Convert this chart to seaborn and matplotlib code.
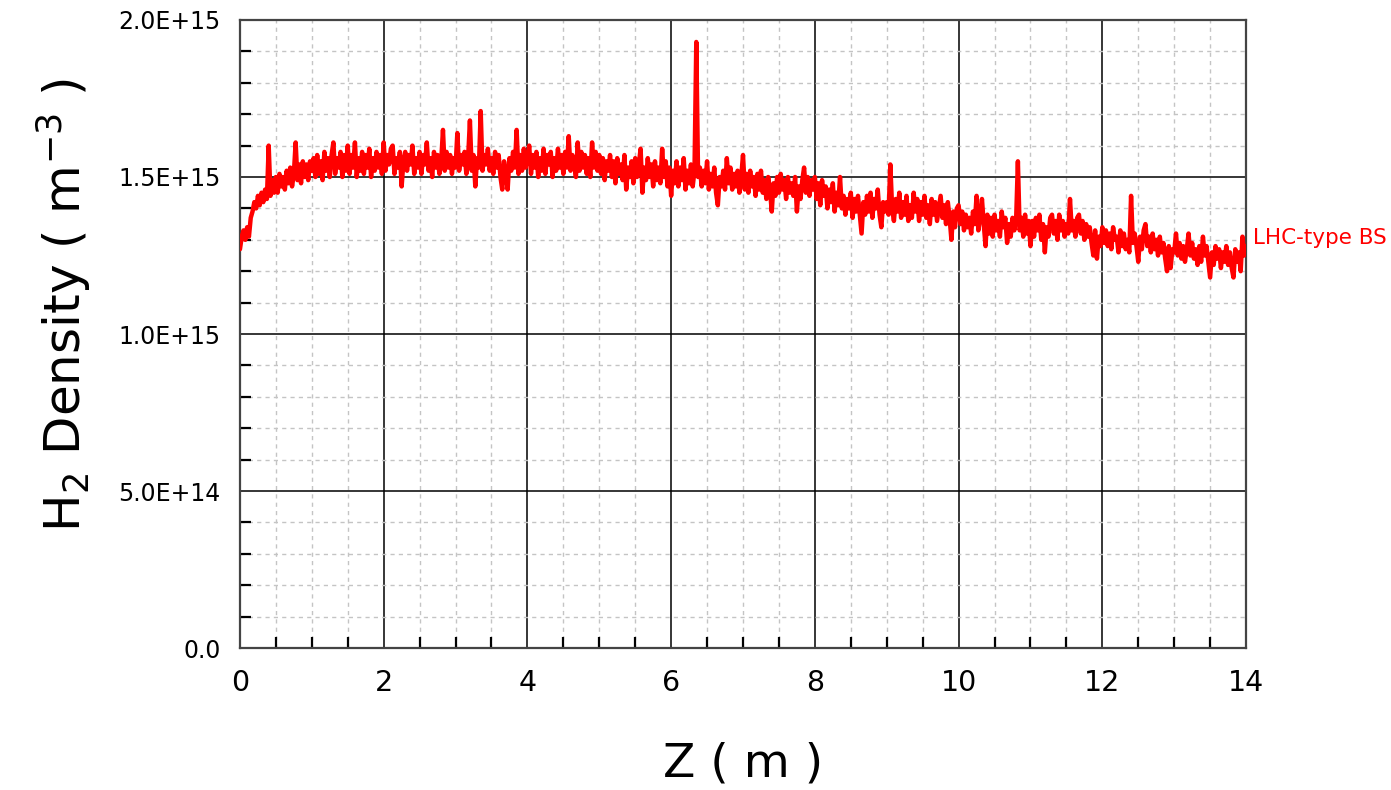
import numpy as np
import pandas as pd
import matplotlib
matplotlib.use("Agg")
import matplotlib.pyplot as plt
from matplotlib.ticker import MultipleLocator, FixedLocator
import seaborn as sns

# Hydrogen density along the beam screen, sampled every 0.025 m (values in 1e13 m^-3),
# one row of 40 samples per metre
z_step = 0.025
density_e13 = [
    # 0 - 1 m
    127, 131, 133, 130, 134, 131, 137, 139, 142, 140, 144, 141, 145, 142, 146, 143, 160, 144, 149, 145,
    150, 145, 151, 147, 150, 146, 152, 148, 153, 147, 151, 161, 149, 154, 148, 155, 150, 154, 149, 155,
    # 1 - 2 m
    152, 156, 150, 157, 151, 155, 149, 158, 152, 156, 150, 157, 161, 151, 156, 153, 158, 150, 157, 152,
    160, 151, 157, 153, 161, 150, 156, 152, 158, 151, 157, 153, 159, 150, 156, 152, 158, 153, 157, 151,
    # 2 - 3 m
    161, 152, 157, 154, 159, 160, 151, 156, 153, 158, 147, 155, 158, 152, 157, 154, 160, 151, 156, 153,
    158, 151, 157, 154, 161, 152, 156, 150, 158, 153, 157, 151, 155, 165, 152, 158, 153, 157, 151, 156,
    # 3 - 4 m
    153, 164, 152, 157, 154, 158, 151, 156, 168, 152, 157, 147, 156, 153, 171, 152, 157, 154, 159, 152,
    156, 151, 158, 153, 157, 150, 146, 155, 151, 146, 156, 152, 158, 153, 165, 151, 157, 152, 159, 153,
    # 4 - 5 m
    156, 160, 151, 157, 153, 158, 150, 156, 152, 159, 151, 157, 154, 158, 150, 156, 152, 159, 153, 157,
    151, 158, 153, 163, 152, 157, 154, 150, 161, 152, 158, 153, 157, 151, 156, 150, 161, 153, 158, 152,
    # 5 - 6 m
    157, 151, 156, 149, 155, 152, 157, 150, 155, 148, 156, 151, 154, 149, 157, 146, 153, 150, 155, 148,
    156, 150, 154, 159, 145, 153, 149, 156, 150, 154, 147, 155, 149, 153, 148, 159, 150, 155, 147, 153,
    # 6 - 7 m
    144, 152, 148, 155, 147, 153, 149, 156, 146, 152, 148, 154, 147, 152, 193, 150, 153, 147, 152, 148,
    155, 146, 151, 147, 153, 145, 141, 150, 147, 152, 146, 156, 148, 153, 146, 151, 147, 152, 145, 150,
    # 7 - 8 m
    157, 146, 151, 145, 152, 147, 150, 144, 151, 146, 152, 145, 149, 143, 150, 146, 139, 148, 144, 150,
    145, 151, 146, 149, 143, 150, 145, 148, 144, 150, 139, 147, 143, 149, 153, 145, 150, 144, 149, 146,
    # 8 - 9 m
    150, 143, 148, 141, 149, 144, 147, 140, 146, 142, 148, 139, 145, 141, 150, 140, 144, 138, 143, 140,
    145, 137, 143, 139, 144, 138, 132, 142, 138, 144, 139, 145, 137, 143, 140, 146, 138, 134, 142, 139,
    # 9 - 10 m
    142, 138, 154, 140, 136, 143, 139, 145, 137, 142, 138, 144, 136, 141, 137, 145, 139, 143, 136, 142,
    138, 144, 137, 141, 135, 143, 138, 142, 136, 140, 144, 137, 141, 135, 142, 137, 130, 139, 134, 140,
    # 10 - 11 m
    141, 135, 139, 133, 138, 134, 137, 132, 139, 135, 144, 133, 137, 143, 135, 128, 138, 132, 137, 131,
    138, 133, 136, 131, 139, 134, 137, 129, 135, 131, 137, 133, 136, 155, 133, 137, 131, 138, 132, 136,
    # 11 - 12 m
    128, 136, 131, 137, 133, 138, 130, 135, 126, 134, 131, 137, 138, 132, 136, 130, 138, 133, 136, 131,
    135, 132, 143, 133, 136, 131, 137, 138, 132, 136, 130, 135, 131, 134, 129, 125, 133, 124, 131, 128,
    # 12 - 13 m
    134, 129, 133, 128, 132, 127, 134, 130, 131, 126, 133, 128, 132, 127, 130, 126, 144, 129, 132, 128,
    123, 131, 127, 133, 135, 128, 131, 126, 132, 127, 130, 125, 131, 126, 129, 124, 120, 128, 121, 127,
    # 13 - 14 m
    126, 132, 125, 129, 124, 128, 123, 127, 132, 125, 129, 124, 127, 122, 128, 123, 131, 125, 128, 123,
    118, 126, 122, 128, 124, 127, 121, 126, 123, 128, 122, 126, 121, 118, 127, 123, 126, 120, 131, 125,
    # 14 m
    128,
]
z_m = [round(i * z_step, 3) for i in range(len(density_e13))]
series_label = "LHC-type BS"

x_ticks = [0, 2, 4, 6, 8, 10, 12, 14]
y_ticks = [0.0, 5.0e14, 1.0e15, 1.5e15, 2.0e15]
y_tick_labels = ["0.0", "5.0E+14", "1.0E+15", "1.5E+15", "2.0E+15"]

df = pd.DataFrame({"z": z_m, "density": np.array(density_e13, dtype=float) * 1e13})

sns.set_style("white")
plt.rcParams["font.family"] = ["DejaVu Sans"]
plt.rcParams["mathtext.fontset"] = "dejavusans"
plt.rcParams["text.color"] = "black"
plt.rcParams["axes.labelcolor"] = "black"

fig = plt.figure(figsize=(13.91, 7.90), dpi=100)
ax = fig.add_axes([0.1725, 0.1797, 0.7233, 0.7950])

sns.lineplot(data=df, x="z", y="density", ax=ax, color="#ff0000",
             linewidth=3.2, estimator=None, sort=False, zorder=3)

ax.set_xlim(0, 14)
ax.set_ylim(0, 2.0e15)

ax.xaxis.set_major_locator(FixedLocator(x_ticks))
ax.xaxis.set_minor_locator(MultipleLocator(0.5))
ax.yaxis.set_major_locator(FixedLocator(y_ticks))
ax.yaxis.set_minor_locator(MultipleLocator(1.0e14))
ax.set_xticklabels([str(t) for t in x_ticks])
ax.set_yticklabels(y_tick_labels)

# grid: solid black on major positions, light dashed on minor positions
ax.grid(which="major", color="black", linewidth=1.1, linestyle="-", zorder=1)
ax.grid(which="minor", color="#c4c4c4", linewidth=1.0, linestyle=(0, (3, 3)), zorder=1)
ax.set_axisbelow(True)

ax.tick_params(axis="both", which="both", direction="in", colors="black",
               bottom=True, left=True, top=False, right=False)
ax.tick_params(axis="x", which="major", length=0, labelsize=20.5, pad=15)
ax.tick_params(axis="y", which="major", length=0, labelsize=17, pad=14)
ax.tick_params(axis="both", which="minor", length=8, width=1.6)

for side in ["left", "bottom", "right", "top"]:
    ax.spines[side].set_color("#444444")
    ax.spines[side].set_linewidth(1.6)

ax.set_xlabel("Z ( m )", fontsize=34, labelpad=32)
ax.set_ylabel(r"H$_2$ Density ( m$^{-3}$ )", fontsize=36)
ax.yaxis.set_label_coords(-0.146, 0.546)

ax.text(14.0, 1.306e15, " " + series_label, color="#ff0000", fontsize=15.5,
        ha="left", va="center", clip_on=False)

fig.savefig("out.png", dpi=100, facecolor="white")
